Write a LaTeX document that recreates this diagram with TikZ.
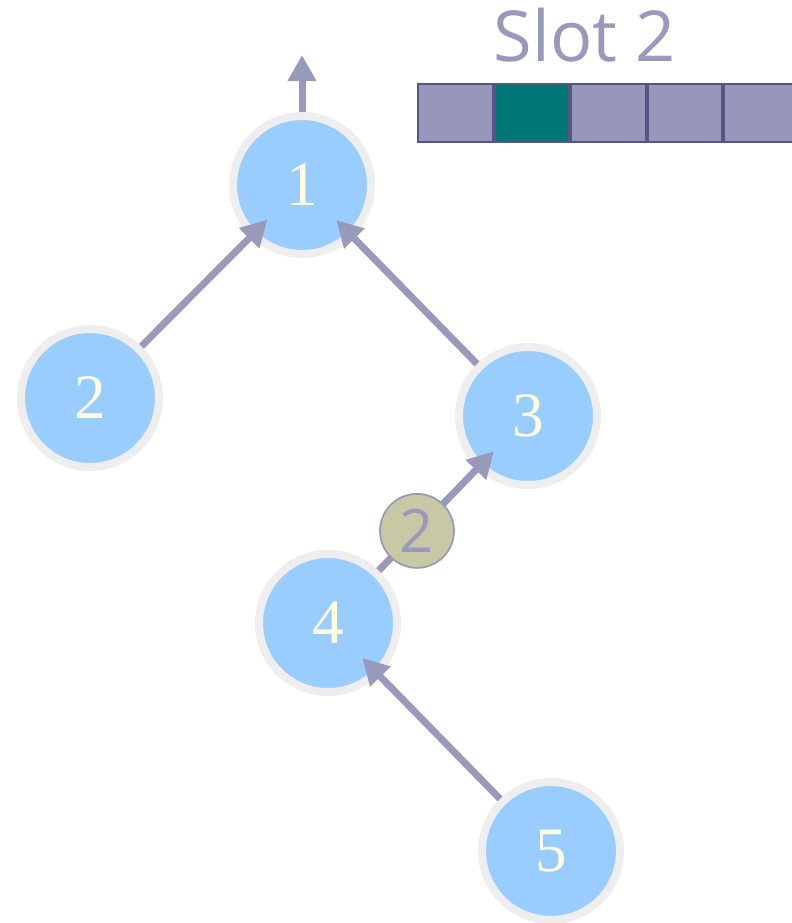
\documentclass[tikz,border=0pt]{standalone}
\usepackage{fontspec}
\usepackage{xcolor}
\usetikzlibrary{arrows.meta,positioning,calc}
\newfontfamily\slotfont{Open Sans}
\newfontfamily\numfont{Liberation Serif}
\definecolor{ringgrey}{HTML}{EEEEEE}
\definecolor{vertblue}{HTML}{99CCFF}
\definecolor{numcream}{HTML}{FFFFE0}
\definecolor{linkpurple}{HTML}{9999BB}
\definecolor{cellpurple}{HTML}{9797BB}
\definecolor{cellline}{HTML}{555588}
\definecolor{cellteal}{HTML}{007777}
\definecolor{tokenolive}{HTML}{C8C8A4}

\begin{document}
\begin{tikzpicture}[>={Triangle[length=5.2mm,width=5.4mm]}, node distance=0mm,
  vert/.style={circle, draw=ringgrey, line width=1.6mm, fill=vertblue, minimum size=27.6mm, inner sep=0pt,
    text=numcream, font=\numfont\fontsize{36}{42}\selectfont},
  token/.style={circle, draw=linkpurple, line width=1pt, fill=tokenolive, minimum size=14.8mm, inner sep=0pt,
    text=linkpurple, font=\slotfont\fontsize{34}{40}\selectfont},
  link/.style={->, draw=linkpurple, line width=1.4mm, shorten >=-4.8mm},
  cell/.style={draw=cellline, line width=0.4mm, fill=cellpurple, minimum width=14.92mm, minimum height=11.6mm, inner sep=0pt}]
  \useasboundingbox (0,0) rectangle (15.84,-18.46);
  % vertices of the tree
  \node[vert](n1) at (6.04,-3.70){1};
  \node[vert](n2) at (1.80,-7.96){2};
  \node[vert](n3) at (10.56,-8.32){3};
  \node[vert](n4) at (6.56,-12.46){4};
  \node[vert](n5) at (11.02,-17.02){5};
  \coordinate (top) at (6.04,-1.10);
  % parent pointers
  \draw[link](n2)--(n1); \draw[link](n3)--(n1);
  \draw[link](n4)--(n3); \draw[link](n5)--(n4);
  \draw[link, shorten >=0pt](n1)--(top);
  \node[token](tok) at ($(n4)!0.445!(n3)$){2};
  % slot array
  \node[font=\slotfont\fontsize{40}{46}\selectfont, text=linkpurple](slot) at (11.70,-0.70){Slot 2};
  \node[cell, anchor=north west](c1) at (8.34,-1.66){};
  \node[cell, fill=cellteal, right=of c1](c2){};
  \node[cell, right=of c2](c3){};
  \node[cell, right=of c3](c4){};
  \node[cell, right=of c4](c5){};
\end{tikzpicture}
\end{document}
